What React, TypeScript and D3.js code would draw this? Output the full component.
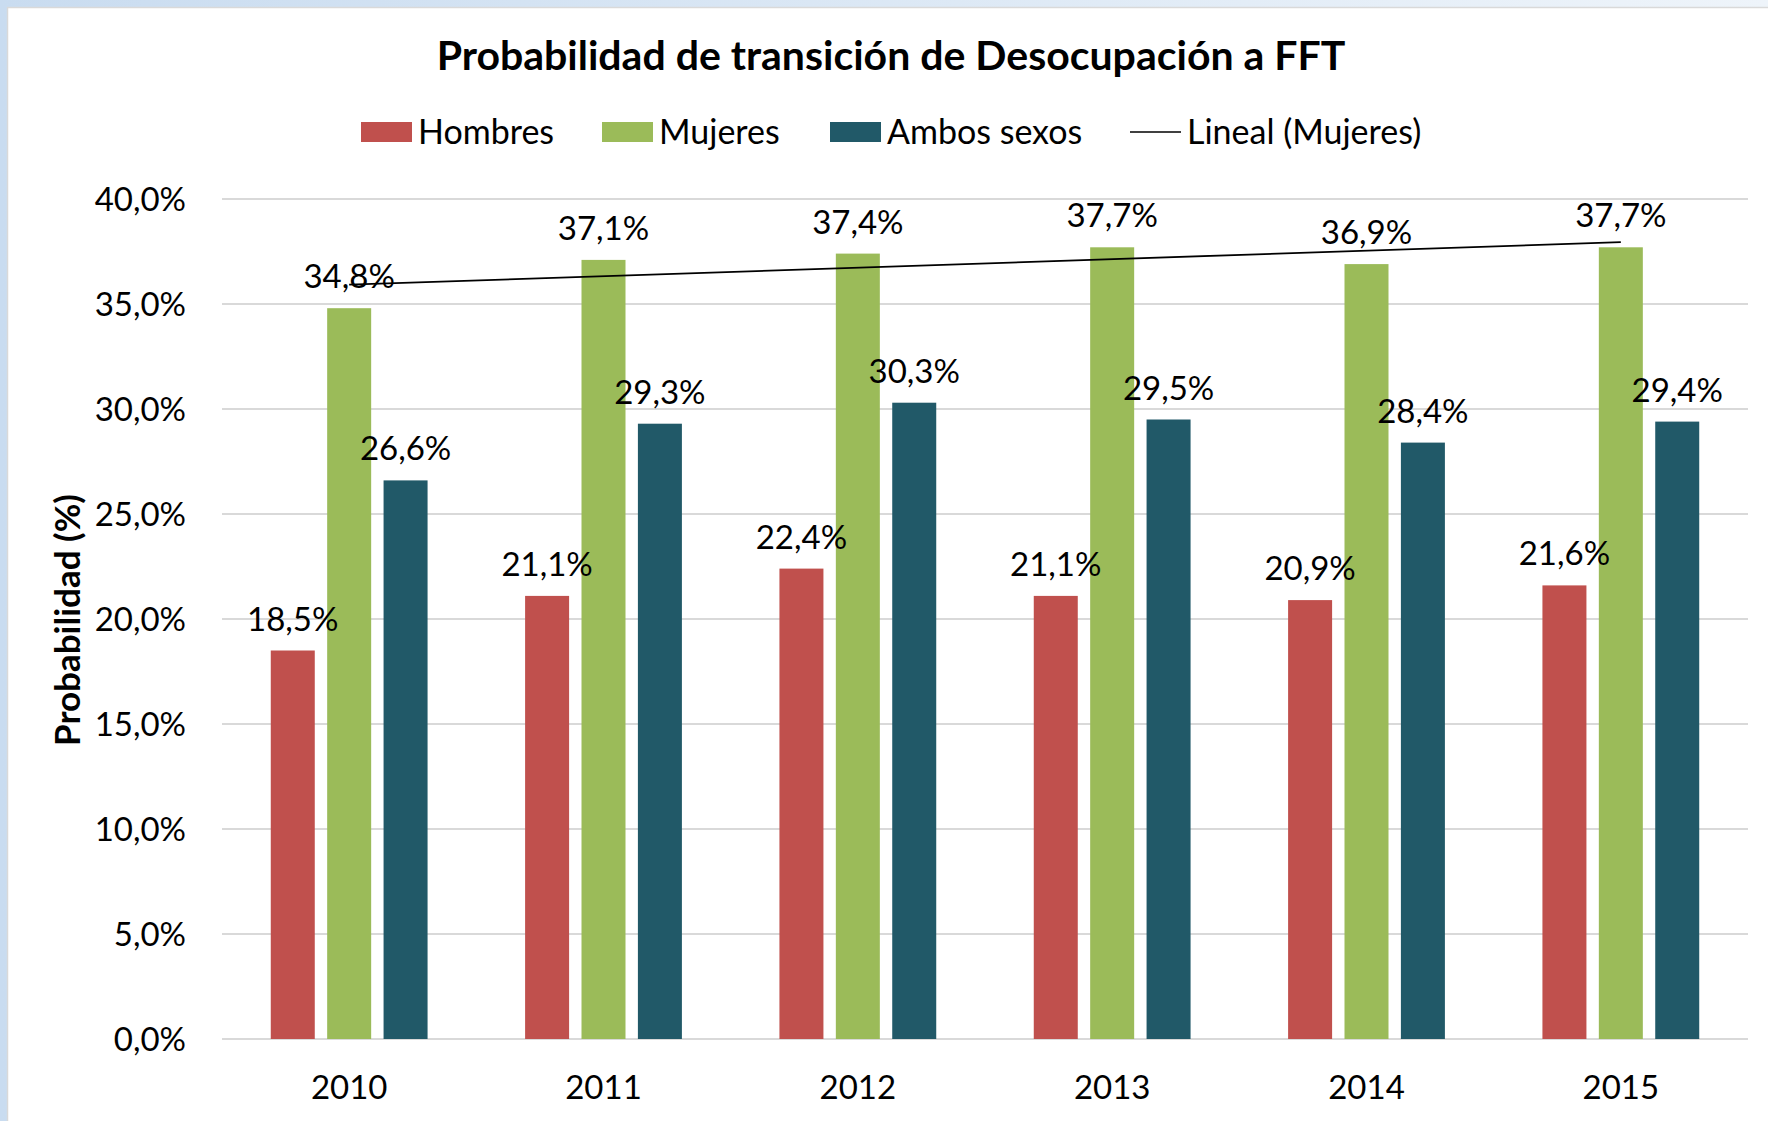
import { useEffect, useRef } from 'react'
import * as d3 from 'd3'

const years = ['2010', '2011', '2012', '2013', '2014', '2015']
const seriesNames = ['Hombres', 'Mujeres', 'Ambos sexos']
const hombres = [18.5, 21.1, 22.4, 21.1, 20.9, 21.6]
const mujeres = [34.8, 37.1, 37.4, 37.7, 36.9, 37.7]
const ambos = [26.6, 29.3, 30.3, 29.5, 28.4, 29.4]
const yTicks = [0, 5, 10, 15, 20, 25, 30, 35, 40]

const colors = ['#C0504D', '#9BBB59', '#215968']
const FONT = 'Lato, "Open Sans", sans-serif'

const fmt = (v: number) => v.toFixed(1).replace('.', ',') + '%'

export default function App() {
  const svgRef = useRef<SVGSVGElement>(null)

  useEffect(() => {
    if (!svgRef.current) return
    const svg = d3.select(svgRef.current)
    svg.selectAll('*').remove()

    const W = 1768
    const H = 1121
    const margin = { top: 199, right: 20, bottom: 82, left: 222 }
    const plotW = 1748 - margin.left
    const plotH = 1039 - margin.top

    // page background + chart frame
    const defs = svg.append('defs')
    const grad = defs.append('linearGradient').attr('id', 'edge').attr('x1', 0).attr('x2', 1)
    grad.append('stop').attr('offset', 0).attr('stop-color', '#C9DCF0')
    grad.append('stop').attr('offset', 1).attr('stop-color', '#EEF4FA')
    svg.append('rect').attr('width', W).attr('height', H).attr('fill', 'url(#edge)')
    svg.append('rect')
      .attr('x', 7.5).attr('y', 7.5)
      .attr('width', W).attr('height', H)
      .attr('fill', '#fff')
      .attr('stroke', '#D9D9D9')
      .attr('stroke-width', 1.5)

    // title
    svg.append('text')
      .attr('x', 891).attr('y', 70)
      .attr('text-anchor', 'middle')
      .attr('font-family', FONT)
      .attr('font-weight', 700)
      .attr('font-size', 41)
      .attr('fill', '#000')
      .text('Probabilidad de transición de Desocupación a FFT')

    // legend
    const legend = svg.append('g').attr('font-family', FONT).attr('font-size', 34).attr('fill', '#000')
    const legendX = [361, 602, 830]
    seriesNames.forEach((name, i) => {
      legend.append('rect')
        .attr('x', legendX[i]).attr('y', 122)
        .attr('width', 51).attr('height', 20)
        .attr('fill', colors[i])
      legend.append('text')
        .attr('x', legendX[i] + 57).attr('y', 144)
        .text(name)
    })
    legend.append('line')
      .attr('x1', 1130).attr('x2', 1181)
      .attr('y1', 132).attr('y2', 132)
      .attr('stroke', '#000').attr('stroke-width', 1.5)
    legend.append('text').attr('x', 1187).attr('y', 144).text('Lineal (Mujeres)')

    const g = svg.append('g').attr('transform', `translate(${margin.left},${margin.top})`)

    const x = d3.scaleBand().domain(years).range([0, plotW])
    const barW = 44
    const step = 56.4
    const y = d3.scaleLinear().domain([0, 40]).range([plotH, 0])

    // gridlines
    g.selectAll('.grid')
      .data(yTicks)
      .enter()
      .append('line')
      .attr('x1', 0).attr('x2', plotW)
      .attr('y1', (d) => y(d)).attr('y2', (d) => y(d))
      .attr('stroke', '#D9D9D9')
      .attr('stroke-width', 2)

    // y tick labels
    g.selectAll('.ytick')
      .data(yTicks)
      .enter()
      .append('text')
      .attr('x', -36)
      .attr('y', (d) => y(d) + 12)
      .attr('text-anchor', 'end')
      .attr('font-family', FONT)
      .attr('font-size', 33)
      .attr('fill', '#000')
      .text((d) => fmt(d))

    // x labels
    g.selectAll('.xlabel')
      .data(years)
      .enter()
      .append('text')
      .attr('x', (d) => (x(d) ?? 0) + x.bandwidth() / 2)
      .attr('y', plotH + 60)
      .attr('text-anchor', 'middle')
      .attr('font-family', FONT)
      .attr('font-size', 33)
      .attr('fill', '#000')
      .text((d) => d)

    // y axis title
    svg.append('text')
      .attr('transform', `translate(80,620) rotate(-90)`)
      .attr('text-anchor', 'middle')
      .attr('font-family', FONT)
      .attr('font-weight', 700)
      .attr('font-size', 35)
      .attr('fill', '#000')
      .text('Probabilidad (%)')

    const series = [hombres, mujeres, ambos]
    const barX = (yi: number, si: number) =>
      (x(years[yi]) ?? 0) + x.bandwidth() / 2 + (si - 1) * step - barW / 2

    series.forEach((vals, si) => {
      g.selectAll(`.bar-${si}`)
        .data(vals)
        .enter()
        .append('rect')
        .attr('x', (_, i) => barX(i, si))
        .attr('y', (d) => y(d))
        .attr('width', barW)
        .attr('height', (d) => plotH - y(d))
        .attr('fill', colors[si])
    })

    // linear trend for Mujeres
    const n = mujeres.length
    const xs = mujeres.map((_, i) => i + 1)
    const mx = d3.mean(xs) ?? 0
    const my = d3.mean(mujeres) ?? 0
    const slope =
      d3.sum(xs.map((xv, i) => (xv - mx) * (mujeres[i] - my))) /
      d3.sum(xs.map((xv) => (xv - mx) ** 2))
    const intercept = my - slope * mx
    const trendX = (i: number) => barX(i, 1) + barW / 2
    g.append('line')
      .attr('x1', trendX(0)).attr('x2', trendX(n - 1))
      .attr('y1', y(intercept + slope * 1))
      .attr('y2', y(intercept + slope * n))
      .attr('stroke', '#000')
      .attr('stroke-width', 1.8)

    // data labels
    series.forEach((vals, si) => {
      g.selectAll(`.lbl-${si}`)
        .data(vals)
        .enter()
        .append('text')
        .attr('x', (_, i) => barX(i, si) + barW / 2)
        .attr('y', (d) => y(d) - 20)
        .attr('text-anchor', 'middle')
        .attr('font-family', FONT)
        .attr('font-size', 33)
        .attr('fill', '#000')
        .text((d) => fmt(d))
    })
  }, [])

  return (
    <svg
      ref={svgRef}
      width={1768}
      height={1121}
      style={{ position: 'absolute', left: 0, top: 0, display: 'block' }}
    />
  )
}
